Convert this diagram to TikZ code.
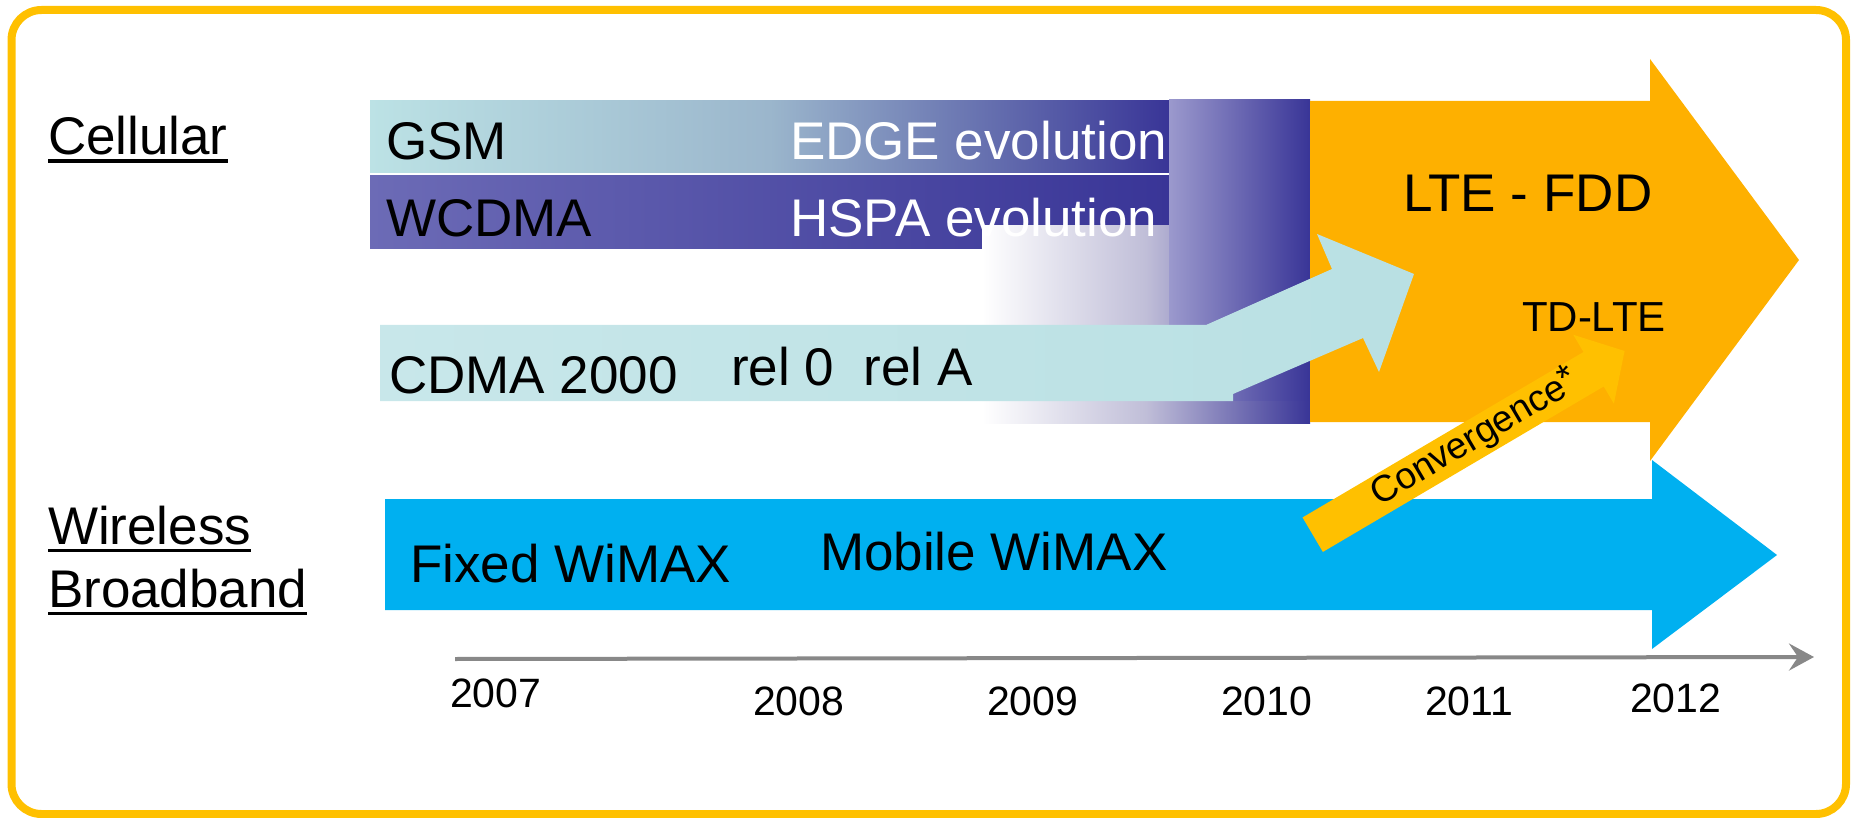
\documentclass[tikz,border=0pt]{standalone}
\usepackage{fontspec}
\setmainfont{Liberation Sans}
\usetikzlibrary{arrows.meta}
\definecolor{navy}{RGB}{57,53,151}
\definecolor{gsmL}{RGB}{188,226,229}
\definecolor{gsmM}{RGB}{155,182,204}
\definecolor{wcL}{RGB}{108,107,182}
\definecolor{colL}{RGB}{155,153,205}
\definecolor{fadeM}{RGB}{192,190,216}
\definecolor{cdmaL}{RGB}{200,231,234}
\definecolor{cdmaR}{RGB}{185,224,227}
\definecolor{lteC}{RGB}{254,176,0}
\definecolor{convC}{RGB}{255,192,0}
\definecolor{wimaxC}{RGB}{0,176,240}
\definecolor{borderC}{RGB}{255,192,0}
\definecolor{axisC}{RGB}{136,136,136}
\begin{document}
\begin{tikzpicture}[x=1pt,y=-1pt,
  lbl/.style={inner sep=0pt, outer sep=0pt, anchor=base west, font=\fontsize{53}{60}\selectfont},
  yr/.style={lbl, font=\fontsize{41}{48}\selectfont},
  wtxt/.style={lbl, text=white},
  uline/.style={line width=3.5pt, black},
  axisline/.style={draw=axisC, line width=4pt, -{Stealth[length=25pt,width=27pt,inset=9pt]}}]
\useasboundingbox (0,0) rectangle (1853,818);
% frame
\draw[line width=8pt, draw=borderC, rounded corners=30pt] (11.5,10) rectangle (1846,814);
% GSM / WCDMA bars
\shade[left color=gsmL, right color=navy, middle color=gsmM] (370,101) rectangle (1169,173);
\shade[left color=wcL, right color=navy] (370,176) rectangle (1169,249);
% fade
\shade[left color=white, right color=navy, middle color=fadeM] (982,226) rectangle (1310,423);
% column
\shade[left color=colL, right color=navy] (1169,100) rectangle (1310,400);
% LTE arrow
\fill[lteC] (1310,101) -- (1650,101) -- (1650,59) -- (1799,260) -- (1650,461) -- (1650,422) -- (1310,422) -- cycle;
% CDMA arrow
\shade[left color=cdmaL, right color=cdmaR] (380,325) -- (1206,325) -- (1332,269) -- (1317,234) -- (1414,274) -- (1379,372) -- (1363,338) -- (1233,394) -- (1233,401) -- (380,401) -- cycle;
% WiMAX arrow
\fill[wimaxC] (385,499) -- (1652,499) -- (1652,460) -- (1777,555) -- (1652,649) -- (1652,610) -- (385,610) -- cycle;
% Convergence arrow
\begin{scope}[shift={(1312.7,534.7)}, rotate=30.5]
  \fill[convC] (0,-20) -- (326,-20) -- (326,-40) -- (362,0) -- (326,40) -- (326,20) -- (0,20) -- cycle;
  \node[inner sep=0pt, anchor=base, rotate=30.5, font=\fontsize{37}{44}\selectfont] (conv) at (189,9.4) {Convergence\raisebox{4pt}{*}};
\end{scope}
% time axis
\coordinate (t0) at (455,659);
\coordinate (t1) at (1814,657);
\draw[axisline] (t0) -- (t1);
% labels
\node[lbl] (cell) at (48,155) {Cellular};
\draw[uline] ([yshift=-6pt]cell.base west) -- ([yshift=-6pt]cell.base east);
\node[lbl] (wl) at (48,544) {Wireless};
\draw[uline] ([yshift=-6.5pt]wl.base west) -- ([yshift=-6.5pt]wl.base east);
\node[lbl] (bb) at (48,607) {Broadband};
\draw[uline] ([yshift=-6.5pt]bb.base west) -- ([yshift=-6.5pt]bb.base east);
% bar texts
\node[lbl] (gsm) at (386,160) {GSM};
\node[wtxt] (edge) at (790,160) {EDGE evolution};
\node[lbl] (wcdma) at (386,237) {WCDMA};
\node[wtxt] (hspa) at (790,237) {HSPA evolution};
\node[lbl] (cdma) at (389,393) {CDMA 2000};
\node[lbl] (rel) at (731,385) {rel 0~~rel A};
\node[lbl] (lte) at (1403,212) {LTE - FDD};
\node[lbl, font=\fontsize{42}{50}\selectfont] (tdlte) at (1522,331) {TD-LTE};
\node[lbl] (fixed) at (410,582) {Fixed WiMAX};
\node[lbl] (mobile) at (820,570) {Mobile WiMAX};
% years
\node[yr] (y7) at (450,707) {2007};
\node[yr] (y8) at (753,715) {2008};
\node[yr] (y9) at (987,715) {2009};
\node[yr] (y10) at (1221,715) {2010};
\node[yr] (y11) at (1425,715) {2011};
\node[yr] (y12) at (1630,712) {2012};
\end{tikzpicture}
\end{document}
